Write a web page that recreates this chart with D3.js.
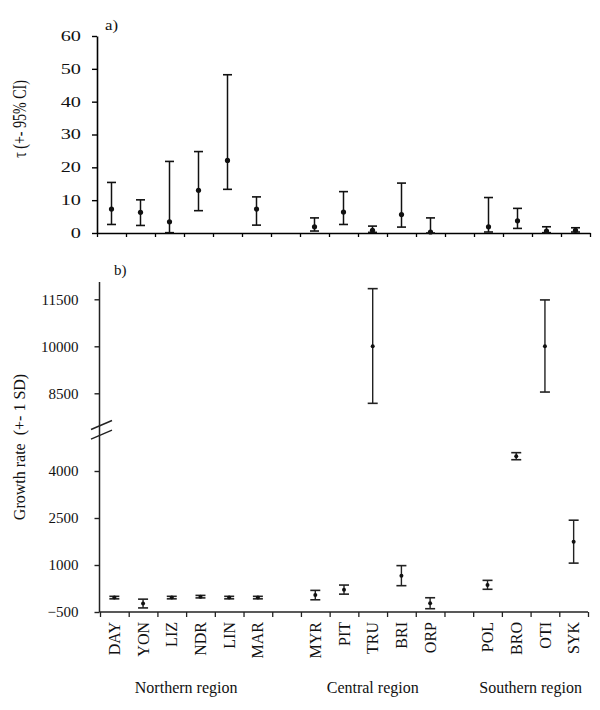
<!DOCTYPE html>
<html>
<head>
<meta charset="utf-8">
<script src="https://cdn.jsdelivr.net/npm/d3@7"></script>
<style>
  body { margin: 0; background: #fff; }
  svg text { font-family: "Liberation Serif", "Times New Roman", serif; fill: #111; }
</style>
</head>
<body>
<svg id="chart"></svg>
<script>
var width = 600, height = 710;

// sites and the region each one belongs to
var sites = ["DAY","YON","LIZ","NDR","LIN","MAR","MYR","PIT","TRU","BRI","ORP","POL","BRO","OTI","SYK"];
var regionNames = ["Northern region","Central region","Southern region"];
var siteRegion = [0,0,0,0,0,0,1,1,1,1,1,2,2,2,2];

// a) tau with 95% CI
var tauMid  = [7.3, 6.3, 3.4, 13.0, 22.1, 7.3, 1.9, 6.4, 0.8, 5.6, 0.3, 1.9, 3.7, 0.6, 0.8];
var tauLow  = [2.6, 2.3, 0.1, 6.8, 13.3, 2.4, 0.6, 2.6, 0.2, 1.8, 0.0, 0.3, 1.4, 0.1, 0.3];
var tauHigh = [15.4, 10.1, 21.8, 24.8, 48.2, 11.0, 4.6, 12.6, 2.1, 15.2, 4.6, 10.8, 7.5, 1.9, 1.6];
var tauTicks = [0, 10, 20, 30, 40, 50, 60];

// b) growth rate +- 1 SD
var growthMid  = [-40, -230, -40, -10, -40, -40, 40, 210, 10000, 660, -220, 365, 4470, 10000, 1745];
var growthLow  = [-80, -370, -80, -50, -80, -80, -110, 70, 8180, 340, -395, 225, 4360, 8540, 1060];
var growthHigh = [0, -90, 0, 30, 0, 0, 190, 360, 11840, 980, -45, 510, 4585, 11480, 2430];
var growthTicksLow = [-500, 1000, 2500, 4000];
var growthTicksHigh = [8500, 10000, 11500];
var lowSegmentTop = 5200, highSegmentBottom = 7450, highSegmentTop = 12050;

var svg = d3.select("#chart")
  .attr("width", width)
  .attr("height", height);

// build slot list, with an empty slot between regions
var slots = [];
sites.forEach(function(s, i) {
  if (i > 0 && siteRegion[i] !== siteRegion[i - 1]) slots.push("gap" + i);
  slots.push(s);
});

var data = sites.map(function(s, i) {
  return { site: s, region: siteRegion[i],
    tau: tauMid[i], tauLo: tauLow[i], tauHi: tauHigh[i],
    g: growthMid[i], gLo: growthLow[i], gHi: growthHigh[i] };
});

// ---------- panel a ----------
var xA = d3.scaleBand().domain(slots).range([97, 590]);
var xAedge = d3.scaleLinear().domain([0, slots.length]).range([97, 590]);
var yA = d3.scaleLinear().domain([0, 60]).range([233, 36]);

var gA = svg.append("g");

var axA = gA.append("g")
  .attr("transform", "translate(97,0)")
  .call(d3.axisLeft(yA).tickValues(tauTicks).tickSize(5).tickSizeOuter(0));
axA.select(".domain").attr("stroke-width", 1.6);
axA.selectAll(".tick line").attr("stroke-width", 1.4);
axA.selectAll(".tick text")
  .attr("x", null)
  .attr("transform", "translate(-16,0) scale(1.45,1)")
  .style("font-size", "14px")
  .style("font-family", "Liberation Serif");

var axAx = gA.append("g")
  .attr("transform", "translate(0,233)")
  .call(d3.axisBottom(xAedge).tickValues(d3.range(slots.length + 1)).tickFormat("").tickSize(4).tickSizeOuter(0));
axAx.select(".domain").attr("stroke-width", 1.6);
axAx.selectAll(".tick line").attr("stroke-width", 1.3);

var barsA = gA.append("g").selectAll("g")
  .data(data)
  .enter().append("g")
  .attr("transform", function(d) { return "translate(" + (xA(d.site) + xA.bandwidth() / 2) + ",0)"; });

barsA.append("line")
  .attr("y1", function(d) { return yA(d.tauLo); })
  .attr("y2", function(d) { return yA(d.tauHi); })
  .attr("stroke", "#111").attr("stroke-width", 1.5);
barsA.append("line")
  .attr("x1", -4.5).attr("x2", 4.5)
  .attr("y1", function(d) { return yA(d.tauHi); })
  .attr("y2", function(d) { return yA(d.tauHi); })
  .attr("stroke", "#111").attr("stroke-width", 1.6);
barsA.append("line")
  .attr("x1", -4.5).attr("x2", 4.5)
  .attr("y1", function(d) { return yA(d.tauLo); })
  .attr("y2", function(d) { return yA(d.tauLo); })
  .attr("stroke", "#111").attr("stroke-width", 1.6);
barsA.append("circle")
  .attr("cy", function(d) { return yA(d.tau); })
  .attr("r", 2.6)
  .attr("fill", "#111");

gA.append("text")
  .attr("transform", "translate(105,30) scale(1.2,1)")
  .style("font-size", "14px")
  .text("a)");

gA.append("text")
  .attr("transform", "translate(26,119) rotate(-90) scale(1,1.3)")
  .attr("text-anchor", "middle")
  .style("font-size", "14px")
  .text("τ (+- 95% CI)");

// ---------- panel b ----------
var k = 47 / 1500;   // px per unit, same on both segments
var xB = d3.scaleBand().domain(slots).range([100, 588]);
var xBedge = d3.scaleLinear().domain([0, slots.length]).range([100, 588]);
var yLow = d3.scaleLinear().domain([-500, 4000]).range([612, 612 - 4500 * k]);
var yHigh = d3.scaleLinear().domain([8500, 11500]).range([393.3, 393.3 - 3000 * k]);
function yB(v) { return v > lowSegmentTop ? yHigh(v) : yLow(v); }

var gB = svg.append("g");
var axisX = 99.5;

// continuous y axis line with tick marks for both segments
gB.append("line")
  .attr("x1", axisX).attr("x2", axisX)
  .attr("y1", yHigh(highSegmentTop)).attr("y2", yLow(-500))
  .attr("stroke", "#222").attr("stroke-width", 1.5);

var axLow = gB.append("g")
  .attr("transform", "translate(" + axisX + ",0)")
  .call(d3.axisLeft(yLow).tickValues(growthTicksLow).tickSize(5).tickPadding(16).tickFormat(d3.format("d")));
var axHigh = gB.append("g")
  .attr("transform", "translate(" + axisX + ",0)")
  .call(d3.axisLeft(yHigh).tickValues(growthTicksHigh).tickSize(5).tickPadding(16).tickFormat(d3.format("d")));
[axLow, axHigh].forEach(function(ax) {
  ax.select(".domain").remove();
  ax.selectAll(".tick line").attr("stroke", "#222").attr("stroke-width", 1.4);
  ax.selectAll(".tick text")
    .style("font-size", "15px")
    .style("font-family", "Liberation Serif")
    .attr("fill", "#111");
});

// break marks
var breakMid = (yLow(lowSegmentTop) + yHigh(highSegmentBottom)) / 2;
[-4.8, 4.8].forEach(function(off) {
  gB.append("line")
    .attr("x1", axisX - 8.5).attr("x2", axisX + 12.5)
    .attr("y1", breakMid + off + 4.5).attr("y2", breakMid + off - 4.5)
    .attr("stroke", "#222").attr("stroke-width", 1.4);
});

var axBx = gB.append("g")
  .attr("transform", "translate(0," + yLow(-500) + ")")
  .call(d3.axisBottom(xBedge).tickValues(d3.range(slots.length + 1)).tickFormat("").tickSize(5).tickSizeOuter(0));
axBx.select(".domain").attr("stroke", "#222").attr("stroke-width", 1.5).attr("d", "M" + axisX + ",0H588");
axBx.selectAll(".tick line").attr("stroke", "#222").attr("stroke-width", 1.3);

// site labels
var labB = gB.append("g")
  .attr("transform", "translate(0," + yLow(-500) + ")")
  .call(d3.axisBottom(xB).tickSize(0).tickFormat(function(d) { return d.indexOf("gap") === 0 ? "" : d; }));
labB.select(".domain").remove();
labB.selectAll(".tick text")
  .attr("y", 0)
  .attr("x", -10)
  .attr("dy", "0.35em")
  .attr("transform", "rotate(-90)")
  .attr("text-anchor", "end")
  .style("font-size", "16px")
  .style("font-family", "Liberation Serif")
  .attr("fill", "#111");

var barsB = gB.append("g").selectAll("g")
  .data(data)
  .enter().append("g")
  .attr("transform", function(d) { return "translate(" + (xB(d.site) + xB.bandwidth() / 2) + ",0)"; });

barsB.append("line")
  .attr("y1", function(d) { return yB(d.gLo); })
  .attr("y2", function(d) { return yB(d.gHi); })
  .attr("stroke", "#222").attr("stroke-width", 1.4);
barsB.append("line")
  .attr("x1", -5).attr("x2", 5)
  .attr("y1", function(d) { return yB(d.gHi); })
  .attr("y2", function(d) { return yB(d.gHi); })
  .attr("stroke", "#222").attr("stroke-width", 1.6);
barsB.append("line")
  .attr("x1", -5).attr("x2", 5)
  .attr("y1", function(d) { return yB(d.gLo); })
  .attr("y2", function(d) { return yB(d.gLo); })
  .attr("stroke", "#222").attr("stroke-width", 1.6);
barsB.append("circle")
  .attr("cy", function(d) { return yB(d.g); })
  .attr("r", 2)
  .attr("fill", "#111");

gB.append("text")
  .attr("x", 114).attr("y", 275)
  .style("font-size", "15px")
  .text("b)");

gB.append("text")
  .attr("transform", "translate(25,447) rotate(-90)")
  .attr("text-anchor", "middle")
  .style("font-size", "16px")
  .style("white-space", "pre")
  .text("Growth rate  (+- 1 SD)");

// region labels under the site names
regionNames.forEach(function(name, r) {
  var inRegion = data.filter(function(d) { return d.region === r; });
  var first = inRegion[0].site, last = inRegion[inRegion.length - 1].site;
  var cx = (xB(first) + xB(last) + xB.bandwidth()) / 2;
  gB.append("text")
    .attr("x", cx).attr("y", 693)
    .attr("text-anchor", "middle")
    .style("font-size", "16px")
    .text(name);
});
</script>
</body>
</html>
